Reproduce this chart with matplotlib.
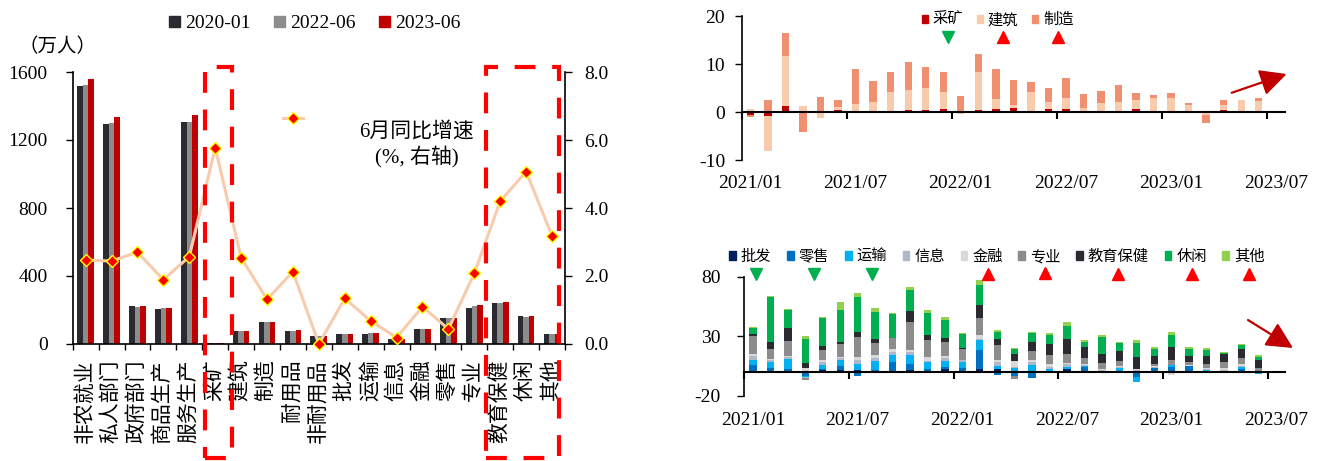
import matplotlib
matplotlib.use('Agg')
import matplotlib.pyplot as plt
import numpy as np
from matplotlib.lines import Line2D
from matplotlib.patches import Rectangle, Patch

plt.rcParams['font.family'] = ['Liberation Serif', 'Noto Sans CJK SC']
plt.rcParams['axes.unicode_minus'] = False

# ---------------- data: left chart ----------------
categories = ['非农就业', '私人部门', '政府部门', '商品生产', '服务生产', '采矿', '建筑', '制造',
              '耐用品', '非耐用品', '批发', '运输', '信息', '金融', '零售', '专业', '教育保健', '休闲', '其他']
emp_2020_01 = [1519, 1292, 223, 207, 1308, 7, 75, 127, 79, 48, 58, 57, 29, 87, 155, 212, 243, 167, 59]
emp_2022_06 = [1523, 1300, 219, 209, 1308, 6, 77, 128, 79, 48, 58, 64, 30, 90, 152, 221, 240, 158, 57]
emp_2023_06 = [1561, 1333, 223, 213, 1345, 7, 79, 130, 80, 49, 59, 65, 31, 91, 155, 227, 250, 164, 58]
yoy_growth = [2.47, 2.44, 2.70, 1.89, 2.57, 5.77, 2.54, 1.31, 2.13, 0.0, 1.34, 0.68, 0.19, 1.10, 0.44, 2.08, 4.20, 5.07, 3.18]
bar_series = ['2020-01', '2022-06', '2023-06']

# ---------------- data: right charts ----------------
month_labels = ['2021/01', '2021/07', '2022/01', '2022/07', '2023/01', '2023/07']
n_months = 31  # 2021/01 .. 2023/07 category slots

goods_names = ['采矿', '建筑', '制造']
mining = [-0.7, -0.9, 1.2, 0.1, 0.1, 0.35, 0.1, 0.1, 0.1, 0.35, 0.35, 0.6, 0.1, 0.5, 0.55,
          0.75, 0.1, 0.6, 0.55, -0.3, 0.1, 0.1, 0.7, 0.3, 0.3, 0.1, -0.2, 0.5, -0.1, 0.1]
construction = [0.7, -7.3, 10.4, 1.2, -1.25, 0.6, 1.5, 1.9, 4.1, 4.2, 4.6, 3.5, -0.4, 7.8, 2.2,
                0.7, 4.0, 1.4, 2.4, 0.75, 1.75, 2.0, 1.9, 2.7, 2.7, 1.4, -0.5, 1.05, 2.6, 2.2]
manufacturing = [-0.3, 2.6, 4.9, -4.2, 3.0, 1.6, 7.3, 4.5, 4.2, 5.8, 4.4, 4.3, 3.2, 3.75, 6.25,
                 5.3, 2.1, 2.9, 4.1, 3.05, 2.6, 3.6, 1.45, 0.5, 1.05, 0.3, -1.5, 0.9, 0.0, 0.7]

serv_names = ['批发', '零售', '运输', '信息', '金融', '专业', '教育保健', '休闲', '其他']
wholesale = [0.5, 1.0, 0.5, -1.0, 1.7, 1.7, 1.7, 1.1, 0.8, 1.7, 1.0, 2.2, 1.0, 2.2, 2.2,
             -1.0, 0.5, 0.5, 2.2, 0.5, 0.3, 0.8, 0.3, 0.5, 1.0, 0.5, -0.8, 0.3, 1.0, 0.3]
retail = [5.5, 2.1, 1.7, -2.5, 1.1, 3.4, -3.5, 0.5, 7.9, 4.8, 1.5, 1.7, 2.5, 16.3, -2.8,
          -2.8, -5.0, -1.0, 0.6, 4.0, 0.5, 0.3, -4.5, 2.5, 2.8, 4.5, 0.8, 0.3, 1.2, -0.5]
transport = [4.2, 5.6, 9.0, -1.0, 3.1, 5.0, 5.0, 7.3, 5.6, 7.9, 5.5, 5.6, 5.0, 7.9, 2.8,
             3.0, 5.5, 2.3, 1.7, 0.5, -1.2, 1.9, -4.0, 0.5, 2.2, -0.8, 0.5, -1.0, 2.2, -1.4]
information = [3.3, 1.4, 1.2, -0.5, 2.8, 1.4, 3.0, 3.1, 2.8, 2.0, 1.5, 2.0, 1.1, 1.0, 3.6,
               1.5, 2.5, 1.5, 2.0, 0.5, 0.5, 0.8, 1.0, 0.8, -0.5, 0.3, 1.0, 0.8, 0.5, 0.3]
finance = [1.7, 0.5, 1.0, 3.4, 1.4, 0.8, 3.2, 2.0, 2.0, 2.2, 3.0, 2.0, 0.8, 3.8, 1.4,
           4.5, 1.5, 2.0, 0.8, 0.8, 1.5, 0.9, 0.8, 0.8, -2.0, 0.3, 0.8, 1.5, 1.4, 0.5]
professional = [15.0, 8.4, 12.6, -2.0, 8.4, 11.2, 16.8, 10.7, 9.3, 23.3, 14.6, 11.5, 9.2, 14.0, 12.6,
                -2.5, 7.5, 8.3, 7.5, 5.6, 4.4, 4.7, 0.6, 1.4, 4.2, 2.5, 3.6, 5.0, 5.6, 2.0]
edu_health = [1.4, 6.2, 10.7, 3.7, 3.4, 1.7, 4.2, 2.8, 0.3, 9.6, 4.2, 3.7, 0.5, 11.2, 5.0,
              6.0, 7.5, 9.2, 12.5, 9.2, 7.5, 8.3, 9.5, 6.9, 11.1, 5.6, 6.9, 6.9, 7.5, 7.2]
leisure = [5.0, 37.6, 14.9, 20.5, 23.3, 27.0, 28.7, 23.0, 19.7, 17.1, 18.0, 15.2, 11.8, 16.3, 5.9,
           4.0, 7.3, 7.5, 11.1, 4.2, 14.7, 6.4, 12.0, 6.1, 9.7, 5.6, 5.0, 1.4, 2.8, 2.0]
other = [1.4, 0.6, 1.4, 2.8, 0.8, 6.7, 3.9, 3.4, 1.4, 2.8, 3.0, 2.5, 0.6, 4.8, 1.4,
         1.5, 1.1, 1.4, 3.6, 1.1, 1.7, 1.1, 3.0, 1.4, 2.2, 1.4, 1.4, 0.8, 1.4, 1.9]

goods_marks = ['down', 'up', 'up']
serv_marks = ['down', 'down', 'down', None, 'up', 'up', 'up', 'up', 'up']

# ---------------- styling ----------------
W, H = 1326, 461
fig = plt.figure(figsize=(W / 100, H / 100), dpi=100)
fig.patch.set_facecolor('white')

bar_colors = ['#2B2A30', '#8C8C8C', '#C00000']
goods_colors = ['#C00000', '#F8CBAD', '#F19070']
serv_colors = ['#002060', '#0070C0', '#00B0F0', '#ADB9CA', '#D9D9D9', '#8C8C8C', '#2B2A30', '#00B050', '#92D050']
NUM_FS = 14


def fx(px):
    return px / W


def fy(py):
    return 1 - py / H


# ---------------- left chart ----------------
ax = fig.add_axes([fx(72.7), fy(344), (565 - 72.7) / W, 272 / H])
x = np.arange(len(categories))
bw = 0.215
for k, (vals, c) in enumerate(zip([emp_2020_01, emp_2022_06, emp_2023_06], bar_colors)):
    ax.bar(x + (k - 1) * bw, vals, bw, color=c, label=bar_series[k], zorder=2)
ax.set_xlim(-0.5, len(categories) - 0.5)
ax.set_ylim(0, 1600)
ax.set_yticks([0, 400, 800, 1200, 1600])
ax.set_xticks(x)
ax.set_xticklabels(categories, rotation=90, fontsize=15)
ax.tick_params(axis='x', which='major', length=0, pad=11)
ax.set_xticks(np.arange(-0.5, len(categories), 1), minor=True)
ax.tick_params(axis='x', which='minor', length=4, width=1.0, direction='out')
ax.tick_params(axis='y', labelsize=NUM_FS, length=5, width=1.0, direction='out', pad=13)
for s in ['top', 'right']:
    ax.spines[s].set_visible(False)
for s in ['left', 'bottom']:
    ax.spines[s].set_linewidth(1.2)

ax2 = ax.twinx()
ax2.set_ylim(0, 8)
ax2.set_yticks([0, 2, 4, 6, 8])
ax2.set_yticklabels([f'{v:.1f}' for v in [0, 2, 4, 6, 8]])
ax2.tick_params(axis='y', labelsize=NUM_FS, length=5, width=1.0, direction='out', pad=9)
for s in ['top', 'left', 'bottom']:
    ax2.spines[s].set_visible(False)
ax2.spines['right'].set_linewidth(1.2)
line, = ax2.plot(x, yoy_growth, color='#F8CBAD', lw=2.2, marker='D', ms=6.3, mfc='#FF0000',
                 mec='#FFFF00', mew=1.0, zorder=3, clip_on=False)

# legend key for the growth line
lkey = ax2.legend([line], [''], loc='center', bbox_to_anchor=(fx(293), fy(120)),
                  bbox_transform=fig.transFigure, frameon=False, handlelength=1.0,
                  handletextpad=0, borderpad=0, fontsize=14)
fig.text(fx(417), fy(145), '6月同比增速\n(%, 右轴)', ha='center', va='center', fontsize=15,
         multialignment='center', linespacing=1.25)

# legend for bars
fig.legend(handles=[Patch(color=c) for c in bar_colors], labels=bar_series, ncol=3, loc='center',
           bbox_to_anchor=(fx(314.5), fy(24)), frameon=False, fontsize=NUM_FS,
           handlelength=0.55, handleheight=0.55, handletextpad=0.26, columnspacing=1.22,
           borderpad=0, borderaxespad=0)
fig.text(fx(58), fy(47), '（万人）', ha='center', va='center', fontsize=14)

# red dashed highlight boxes
for (x0, x1) in [(205, 231.7), (485.7, 559)]:
    fig.add_artist(Rectangle((fx(x0), fy(458)), (x1 - x0) / W, (458 - 67) / H, fill=False,
                             edgecolor='#FF0000', lw=3, linestyle=(0, (5, 4)),
                             transform=fig.transFigure, zorder=10))


# ---------------- helper for excel-like stacking ----------------
def stacked(axis, series, colors, width=0.42):
    xs = np.arange(len(series[0]))
    pos = np.zeros(len(xs))
    neg = np.zeros(len(xs))
    for vals, c in zip(series, colors):
        v = np.asarray(vals, dtype=float)
        bottom = np.where(v >= 0, pos, neg)
        axis.bar(xs, v, width, bottom=bottom, color=c, zorder=2)
        pos = pos + np.clip(v, 0, None)
        neg = neg + np.clip(v, None, 0)


def style_month_axis(axis, ylim, yticks, ypad, lab_pad):
    axis.set_xlim(-0.5, n_months - 0.5)
    axis.set_ylim(*ylim)
    axis.set_yticks(yticks)
    axis.set_yticklabels([str(v) for v in yticks])
    axis.tick_params(axis='y', labelsize=NUM_FS, length=5, width=1.0, direction='out', pad=ypad)
    for s in ['top', 'right']:
        axis.spines[s].set_visible(False)
    axis.spines['left'].set_linewidth(1.2)
    axis.spines['bottom'].set_position(('data', 0))
    axis.spines['bottom'].set_linewidth(1.5)
    axis.set_xticks(np.arange(-0.5, n_months, 6))
    axis.set_xticklabels([])
    axis.tick_params(axis='x', length=5, width=1.5, direction='out')
    sec = axis.secondary_xaxis(0)
    sec.set_xticks(np.arange(0, n_months, 6))
    sec.set_xticklabels(month_labels)
    sec.tick_params(axis='x', length=0, labelsize=NUM_FS, pad=lab_pad)
    sec.spines['bottom'].set_visible(False)


# ---------------- right top chart ----------------
axt = fig.add_axes([fx(741.7), fy(160), (1285 - 741.7) / W, 144 / H])
stacked(axt, [mining, construction, manufacturing], goods_colors)
style_month_axis(axt, (-10, 20), [-10, 0, 10, 20], 7, 11)
leg_t = axt.legend(handles=[Patch(color=c) for c in goods_colors], labels=goods_names, ncol=3,
                   loc='center', bbox_to_anchor=(fx(997.5), fy(20)), bbox_transform=fig.transFigure,
                   frameon=False, fontsize=11, handlelength=0.44, handleheight=0.44,
                   handletextpad=0.29, columnspacing=0.88, borderpad=0, borderaxespad=0)
axt.annotate('', xy=(1.003, 0.597), xytext=(0.902, 0.467), xycoords='axes fraction',
             arrowprops=dict(arrowstyle='-|>,head_length=0.9,head_width=0.45', color='#C00000',
                             lw=1.6, mutation_scale=18, shrinkA=0, shrinkB=0),
             annotation_clip=False)

# ---------------- right bottom chart ----------------
axb = fig.add_axes([fx(744.3), fy(395.7), (1285 - 744.3) / W, 119 / H])
stacked(axb, [wholesale, retail, transport, information, finance, professional, edu_health, leisure, other],
        serv_colors, width=0.42)
style_month_axis(axb, (-20, 80), [-20, 30, 80], 12, 12)
leg_b = axb.legend(handles=[Patch(color=c) for c in serv_colors], labels=serv_names, ncol=9,
                   loc='center', bbox_to_anchor=(fx(996.9), fy(256.7)), bbox_transform=fig.transFigure,
                   frameon=False, fontsize=11, handlelength=0.44, handleheight=0.44,
                   handletextpad=0.33, columnspacing=1.02, borderpad=0, borderaxespad=0)
axb.annotate('', xy=(1.0148, 0.401), xytext=(0.9316, 0.636), xycoords='axes fraction',
             arrowprops=dict(arrowstyle='-|>,head_length=0.9,head_width=0.45', color='#C00000',
                             lw=1.6, mutation_scale=18, shrinkA=0, shrinkB=0),
             annotation_clip=False)

# ---------------- direction triangles under legend entries ----------------
fig.canvas.draw()
renderer = fig.canvas.get_renderer()


def add_triangles(leg, marks):
    for txt, m in zip(leg.get_texts(), marks):
        if m is None:
            continue
        bb = txt.get_window_extent(renderer)
        cx = (bb.x0 + bb.x1) / 2
        cy = (bb.y0 + bb.y1) / 2 - 16.7
        px, py = fig.transFigure.inverted().transform((cx, cy))
        fig.add_artist(Line2D([px], [py], marker='v' if m == 'down' else '^', ms=8,
                              color='#00B050' if m == 'down' else '#FF0000', linestyle='none',
                              transform=fig.transFigure))


add_triangles(leg_t, goods_marks)
add_triangles(leg_b, serv_marks)

fig.savefig('out.png', dpi=100, facecolor='white')
